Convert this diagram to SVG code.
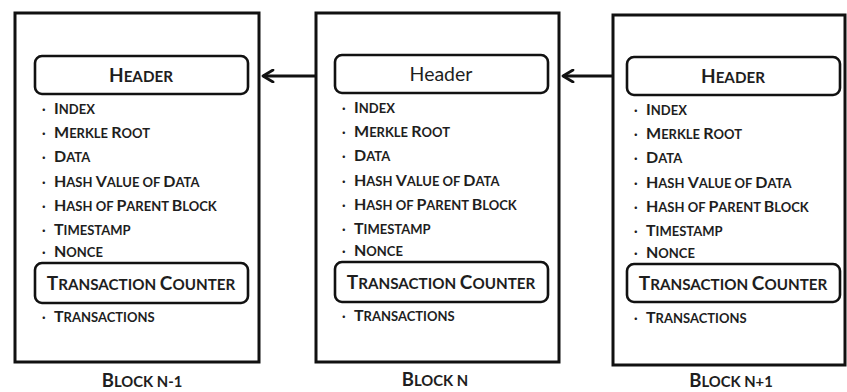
<svg xmlns="http://www.w3.org/2000/svg" width="847" height="392" viewBox="0 0 847 392">
<defs>
<style>
.outer{fill:#fff;stroke:#111;stroke-width:3}
.box{fill:#fff;stroke:#111;stroke-width:2.6}
.t{font-family:Lato,"Open Sans",sans-serif;font-weight:bold;fill:#1e1e1e}
.it{font-size:13px}
.it .b{font-size:16px}
.hd{font-size:15.2px}
.hd .b{font-size:19px}
.lb{font-size:14.8px}
.lb .b{font-size:18.5px}
.conn{stroke:#111;stroke-width:3;fill:none}
</style>
<marker id="ah" viewBox="0 0 14 14" refX="12" refY="7" markerWidth="14" markerHeight="14" orient="auto" markerUnits="userSpaceOnUse">
<path d="M2 1 L12 7 L2 13" fill="none" stroke="#111" stroke-width="2.8" stroke-linecap="round" stroke-linejoin="round"/>
</marker>
</defs>
<rect width="847" height="392" fill="#fff"/>
<g id="block-n-1">
<rect class="outer" x="15" y="13" width="244" height="349"/>
<rect class="box" x="35" y="56" width="213" height="38" rx="7"/>
<text class="t hd" x="141" y="82" text-anchor="middle"><tspan class="b">H</tspan>EADER</text>
<g class="t it">
<text x="42" y="114">·<tspan x="54" class="b">I</tspan>NDEX</text>
<text x="42" y="138">·<tspan x="54" class="b">M</tspan>ERKLE <tspan class="b">R</tspan>OOT</text>
<text x="42" y="162">·<tspan x="54" class="b">D</tspan>ATA</text>
<text x="42" y="187">·<tspan x="54" class="b">H</tspan>ASH <tspan class="b">V</tspan>ALUE OF <tspan class="b">D</tspan>ATA</text>
<text x="42" y="211">·<tspan x="54" class="b">H</tspan>ASH OF <tspan class="b">P</tspan>ARENT <tspan class="b">B</tspan>LOCK</text>
<text x="42" y="235">·<tspan x="54" class="b">T</tspan>IMESTAMP</text>
<text x="42" y="257">·<tspan x="54" class="b">N</tspan>ONCE</text>
<text x="42" y="322">·<tspan x="54" class="b">T</tspan>RANSACTIONS</text>
</g>
<rect class="box" x="35" y="263" width="213" height="40" rx="7"/>
<text class="t hd" x="141" y="290" text-anchor="middle"><tspan class="b">T</tspan>RANSACTION <tspan class="b">C</tspan>OUNTER</text>
<text class="t lb" x="142" y="387" text-anchor="middle"><tspan class="b">B</tspan>LOCK N-1</text>
</g>
<g id="block-n">
<rect class="outer" x="316" y="13" width="243" height="349"/>
<rect class="box" x="335" y="55" width="213" height="38" rx="7"/>
<text class="t" x="441" y="81" text-anchor="middle" style="font-size:19.5px;font-weight:normal">Header</text>
<g class="t it">
<text x="342" y="113">·<tspan x="354" class="b">I</tspan>NDEX</text>
<text x="342" y="137">·<tspan x="354" class="b">M</tspan>ERKLE <tspan class="b">R</tspan>OOT</text>
<text x="342" y="161">·<tspan x="354" class="b">D</tspan>ATA</text>
<text x="342" y="186">·<tspan x="354" class="b">H</tspan>ASH <tspan class="b">V</tspan>ALUE OF <tspan class="b">D</tspan>ATA</text>
<text x="342" y="210">·<tspan x="354" class="b">H</tspan>ASH OF <tspan class="b">P</tspan>ARENT <tspan class="b">B</tspan>LOCK</text>
<text x="342" y="234">·<tspan x="354" class="b">T</tspan>IMESTAMP</text>
<text x="342" y="256">·<tspan x="354" class="b">N</tspan>ONCE</text>
<text x="342" y="321">·<tspan x="354" class="b">T</tspan>RANSACTIONS</text>
</g>
<rect class="box" x="335" y="262" width="213" height="40" rx="7"/>
<text class="t hd" x="441" y="289" text-anchor="middle"><tspan class="b">T</tspan>RANSACTION <tspan class="b">C</tspan>OUNTER</text>
<text class="t lb" x="435" y="386" text-anchor="middle"><tspan class="b">B</tspan>LOCK N</text>
</g>
<g id="block-n1">
<rect class="outer" x="613" y="15" width="232" height="350"/>
<rect class="box" x="627" y="57" width="213" height="38" rx="7"/>
<text class="t hd" x="733" y="83" text-anchor="middle"><tspan class="b">H</tspan>EADER</text>
<g class="t it">
<text x="634" y="115">·<tspan x="646" class="b">I</tspan>NDEX</text>
<text x="634" y="139">·<tspan x="646" class="b">M</tspan>ERKLE <tspan class="b">R</tspan>OOT</text>
<text x="634" y="163">·<tspan x="646" class="b">D</tspan>ATA</text>
<text x="634" y="188">·<tspan x="646" class="b">H</tspan>ASH <tspan class="b">V</tspan>ALUE OF <tspan class="b">D</tspan>ATA</text>
<text x="634" y="212">·<tspan x="646" class="b">H</tspan>ASH OF <tspan class="b">P</tspan>ARENT <tspan class="b">B</tspan>LOCK</text>
<text x="634" y="236">·<tspan x="646" class="b">T</tspan>IMESTAMP</text>
<text x="634" y="258">·<tspan x="646" class="b">N</tspan>ONCE</text>
<text x="634" y="323">·<tspan x="646" class="b">T</tspan>RANSACTIONS</text>
</g>
<rect class="box" x="627" y="264" width="213" height="38" rx="7"/>
<text class="t hd" x="733" y="290" text-anchor="middle"><tspan class="b">T</tspan>RANSACTION <tspan class="b">C</tspan>OUNTER</text>
<text class="t lb" x="731" y="387" text-anchor="middle"><tspan class="b">B</tspan>LOCK N+1</text>
</g>
<g id="connectors">
<line class="conn" x1="316" y1="76" x2="263" y2="76" marker-end="url(#ah)"/>
<line class="conn" x1="613" y1="76" x2="563" y2="76" marker-end="url(#ah)"/>
</g>
</svg>
